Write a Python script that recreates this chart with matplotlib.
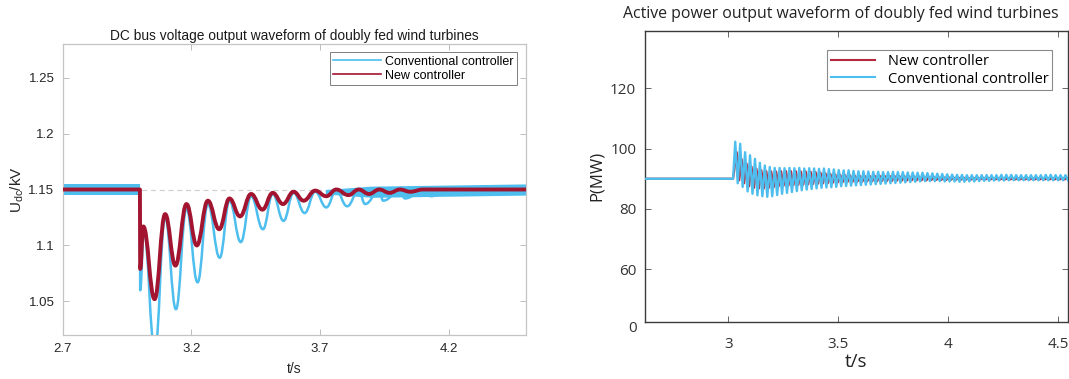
import numpy as np
import matplotlib
matplotlib.use("Agg")
import matplotlib.pyplot as plt
from matplotlib.path import Path
from matplotlib.patches import PathPatch
from matplotlib.lines import Line2D

plt.rcParams['mathtext.fontset'] = 'custom'
plt.rcParams['mathtext.rm'] = 'Liberation Sans'
plt.rcParams['mathtext.it'] = 'Liberation Sans'

BLUE = '#4DBEEE'
RED = '#A2142F'

# ---- left: DC bus voltage (peaks / troughs) ----
u_t_new = [2.70, 3.000, 3.001, 3.013, 3.057, 3.098, 3.138, 3.181, 3.221, 3.264,
           3.308, 3.348, 3.389, 3.432, 3.476, 3.516, 3.556, 3.597, 3.636, 3.681,
           3.724, 3.763, 3.810, 3.850, 3.890, 3.930, 3.970, 4.010, 4.050, 4.100, 4.50]
u_new = [1.150, 1.150, 1.079, 1.117, 1.052, 1.128, 1.082, 1.137, 1.100, 1.140,
         1.1145, 1.142, 1.126, 1.146, 1.132, 1.147, 1.137, 1.148, 1.140, 1.149,
         1.144, 1.150, 1.145, 1.150, 1.146, 1.150, 1.147, 1.150, 1.148, 1.150, 1.150]

u_t_conv = [2.70, 3.000, 3.001, 3.015, 3.058, 3.098, 3.140, 3.181, 3.224, 3.264,
            3.310, 3.348, 3.392, 3.432, 3.478, 3.516, 3.558, 3.597, 3.640, 3.681,
            3.724, 3.763, 3.805, 3.850, 3.875, 3.930, 3.945, 4.010, 4.030, 4.100,
            4.130, 4.200, 4.50]
u_conv = [1.150, 1.150, 1.060, 1.113, 1.005, 1.125, 1.043, 1.133, 1.067, 1.137,
          1.089, 1.140, 1.103, 1.144, 1.1145, 1.146, 1.122, 1.147, 1.129, 1.148,
          1.134, 1.149, 1.135, 1.149, 1.137, 1.149, 1.140, 1.149, 1.142, 1.149,
          1.144, 1.149, 1.149]

# measurement-noise bands of the flat parts
band_pre_t = [2.70, 3.0]
band_pre_lo = [1.145, 1.145]
band_pre_hi = [1.155, 1.155]
band_post_t = [3.72, 3.90, 4.50]
band_post_lo = [1.146, 1.143, 1.145]
band_post_hi = [1.150, 1.153, 1.155]

# ---- right: active power ----
p_flat_t = [2.62, 3.022]
p_flat = [90.0, 90.0]
p_t0 = 3.032      # first peak
p_period = 0.0224

p_conv_hi = [102.3, 101.6, 98.8, 97.8, 96.6, 95.3, 94.4, 93.9, 93.6, 93.6,
             93.5, 93.6, 93.5, 93.6, 93.4, 93.5, 93.4, 93.3, 93.4, 93.2,
             93.1, 92.9, 92.8, 92.8, 92.6, 92.5, 92.5, 92.4, 92.3, 92.3,
             92.2, 92.2, 92.3, 92.2, 92.2, 92.1, 92.1, 92.0, 92.0, 91.9,
             91.8, 91.7, 91.6, 91.5, 91.4, 91.3, 91.3, 91.2, 91.2, 91.2,
             91.2, 91.2, 91.2, 91.2, 91.3, 91.3, 91.3, 91.2, 91.2, 91.2,
             91.2, 91.2, 91.2, 91.3, 91.3, 91.2, 91.2, 91.2]
p_conv_lo = [88.5, 87.3, 85.8, 85.0, 84.5, 84.2, 84.0, 84.2, 84.6, 85.0,
             85.3, 85.6, 85.9, 86.2, 86.4, 86.6, 86.8, 87.0, 87.1, 87.2,
             87.3, 87.5, 87.6, 87.7, 87.8, 87.9, 88.0, 88.1, 88.2, 88.3,
             88.4, 88.5, 88.6, 88.7, 88.8, 88.9, 89.0, 89.1, 89.2, 89.2,
             89.2, 89.2, 89.1, 89.1, 89.1, 89.0, 89.0, 89.1, 89.1, 89.2,
             89.3, 89.3, 89.4, 89.4, 89.4, 89.5, 89.5, 89.5, 89.5, 89.5,
             89.5, 89.5, 89.5, 89.5, 89.5, 89.5, 89.5, 89.5]
p_new_hi = [98.8, 96.5, 95.0, 94.0, 93.3, 92.8, 92.5, 92.4, 92.4, 92.5,
            92.5, 92.5, 92.5, 92.4, 92.4, 92.3, 92.2, 92.0, 91.8, 91.6,
            91.4, 91.3, 91.2, 91.1, 91.0, 90.9, 90.9, 90.9, 91.0, 91.0,
            91.0, 91.0, 91.0, 90.9, 90.9, 90.8, 90.8, 90.7, 90.7, 90.6,
            90.6, 90.5, 90.5, 90.5, 90.4, 90.4, 90.4, 90.3, 90.3, 90.3,
            90.3, 90.3, 90.2, 90.2, 90.2, 90.2, 90.2, 90.2, 90.2, 90.2,
            90.2, 90.2, 90.2, 90.2, 90.2, 90.2, 90.2, 90.2]
p_new_lo = [89.5, 88.5, 87.5, 87.0, 86.8, 86.8, 87.0, 87.2, 87.5, 87.7,
            87.8, 87.9, 88.0, 88.1, 88.2, 88.3, 88.4, 88.5, 88.6, 88.7,
            88.8, 88.9, 89.0, 89.0, 89.1, 89.1, 89.2, 89.2, 89.2, 89.3,
            89.3, 89.3, 89.4, 89.4, 89.4, 89.5, 89.5, 89.5, 89.5, 89.6,
            89.6, 89.6, 89.6, 89.7, 89.7, 89.7, 89.7, 89.7, 89.8, 89.8,
            89.8, 89.8, 89.8, 89.8, 89.8, 89.8, 89.8, 89.8, 89.8, 89.8,
            89.8, 89.8, 89.8, 89.8, 89.8, 89.8, 89.8, 89.8]


def zigzag(hi, lo, shift):
    k = np.arange(len(hi))
    t = np.column_stack([p_t0 + (k + shift) * p_period,
                         p_t0 + (k + shift + 0.5) * p_period]).ravel()
    v = np.column_stack([hi, lo]).ravel()
    return np.concatenate([p_flat_t, t]), np.concatenate([p_flat, v])


def wave_path(t, v):
    # straight for the flat part and the step, smooth between the extrema
    verts = [(t[0], v[0])]
    codes = [Path.MOVETO]
    n = len(t)
    for i in range(1, n):
        if 3 <= i <= n - 2:
            dt = (t[i] - t[i - 1]) * 0.42
            verts += [(t[i - 1] + dt, v[i - 1]), (t[i] - dt, v[i]), (t[i], v[i])]
            codes += [Path.CURVE4] * 3
        else:
            verts.append((t[i], v[i]))
            codes.append(Path.LINETO)
    return Path(verts, codes)


fig = plt.figure(figsize=(10.69, 3.79), dpi=100)

# ================= left panel =================
ax1 = fig.add_axes([62.7 / 1069, 1 - 335 / 379, (526 - 62.7) / 1069, (335 - 44) / 379])
ax1.axhline(1.15, color='#d0d0d0', lw=0.9, ls='--', dashes=(4, 3), zorder=1)
ax1.fill_between(band_pre_t, band_pre_lo, band_pre_hi, color=BLUE, lw=0, zorder=2)
ax1.fill_between(band_post_t, band_post_lo, band_post_hi, color=BLUE, lw=0, zorder=2)
ax1.add_patch(PathPatch(wave_path(u_t_conv, u_conv), fill=False, edgecolor=BLUE,
                        lw=1.8, zorder=3, capstyle='round', joinstyle='round'))
ax1.add_patch(PathPatch(wave_path(u_t_new, u_new), fill=False, edgecolor=RED,
                        lw=2.8, zorder=4, capstyle='round', joinstyle='round'))
ax1.set_xlim(2.7, 4.5)
ax1.set_ylim(1.02, 1.28)
ax1.set_xticks([2.7, 3.2, 3.7, 4.2])
ax1.set_xticklabels(['2.7', '3.2', '3.7', '4.2'])
ax1.set_yticks([1.05, 1.1, 1.15, 1.2, 1.25])
ax1.set_yticklabels(['1.05', '1.1', '1.15', '1.2', '1.25'])
for s in ax1.spines.values():
    s.set_color('#c4c4c4')
    s.set_linewidth(0.9)
ax1.tick_params(direction='in', top=True, right=True, length=4, width=0.7,
                color='#bdbdbd', labelcolor='#262626', labelsize=9.5, pad=6)
for lab in ax1.get_xticklabels() + ax1.get_yticklabels():
    lab.set_family('Liberation Sans')
ax1.set_xlabel('t/s', family='Liberation Sans', fontsize=10, color='#262626', labelpad=5)
ax1.set_ylabel(r'U$_{\rm dc}$/kV', family='Liberation Sans', fontsize=11, color='#262626', labelpad=2)
ax1.set_title('DC bus voltage output waveform of doubly fed wind turbines',
              family='Liberation Sans', fontsize=9.9, color='#1a1a1a', pad=3)
h1 = [Line2D([], [], color=BLUE, lw=1.2), Line2D([], [], color=RED, lw=1.2)]
leg1 = ax1.legend(h1, ['Conventional controller', 'New controller'],
                  loc='upper right', bbox_to_anchor=(1 - 9 / 463, 1 - 8 / 291),
                  prop={'family': 'Liberation Sans', 'size': 9},
                  fancybox=False, framealpha=1, edgecolor='#7f7f7f',
                  handlelength=3.8, handletextpad=0.3, borderpad=0.3,
                  labelspacing=0.15, borderaxespad=0)
leg1.get_frame().set_linewidth(0.7)

# ================= right panel =================
ax2 = fig.add_axes([644.6 / 1069, 1 - 321.7 / 379, (1067.7 - 644.6) / 1069, (321.7 - 31) / 379])
tn, vn = zigzag(p_new_hi, p_new_lo, 0.3)
tc, vc = zigzag(p_conv_hi, p_conv_lo, 0.0)
ax2.plot(tn, vn, color='#B2283F', lw=1.6, label='New controller', zorder=2)
ax2.plot(tc, vc, color=BLUE, lw=1.7, label='Conventional controller', zorder=3)
ax2.set_xlim(2.62, 4.543)
ax2.set_ylim(42.6, 139)
ax2.set_xticks([3, 3.5, 4, 4.5])
ax2.set_xticklabels(['3', '3.5', '4', '4.5'])
ax2.set_yticks([60, 80, 100, 120])
for s in ax2.spines.values():
    s.set_color('#3a3a3a')
    s.set_linewidth(1.0)
ax2.tick_params(direction='in', top=True, right=True, length=4, width=0.7,
                color='#666666', labelcolor='#333333', labelsize=11)
ax2.tick_params(axis='x', pad=11)
ax2.tick_params(axis='y', pad=6)
for lab in ax2.get_xticklabels() + ax2.get_yticklabels():
    lab.set_family('Open Sans')
fig.text(637 / 1069, 1 - 328 / 379, '0', ha='right', va='center',
         family='Open Sans', fontsize=11, color='#333333')
ax2.set_xlabel('t/s', family='Open Sans', fontsize=13.5, color='#222222', labelpad=1)
ax2.set_ylabel('P(MW)', family='Open Sans', fontsize=12, color='#222222', labelpad=4)
fig.text(841 / 1069, 1 - 14 / 379, 'Active power output waveform of doubly fed wind turbines',
         ha='center', va='center', family='Open Sans', fontsize=11.4, color='#222222')
h2 = [Line2D([], [], color='#B2283F', lw=1.5), Line2D([], [], color=BLUE, lw=1.5)]
leg2 = ax2.legend(h2, ['New controller', 'Conventional controller'],
                  loc='upper right', bbox_to_anchor=(1 - 15.5 / 423, 1 - 19 / 290.7),
                  prop={'family': 'Open Sans', 'size': 10.5},
                  fancybox=False, framealpha=1, edgecolor='#8a8a8a',
                  handlelength=3.0, handletextpad=0.9, borderpad=0.25,
                  labelspacing=0.2, borderaxespad=0)
leg2.get_frame().set_linewidth(0.8)

fig.savefig('out.png', dpi=100)
